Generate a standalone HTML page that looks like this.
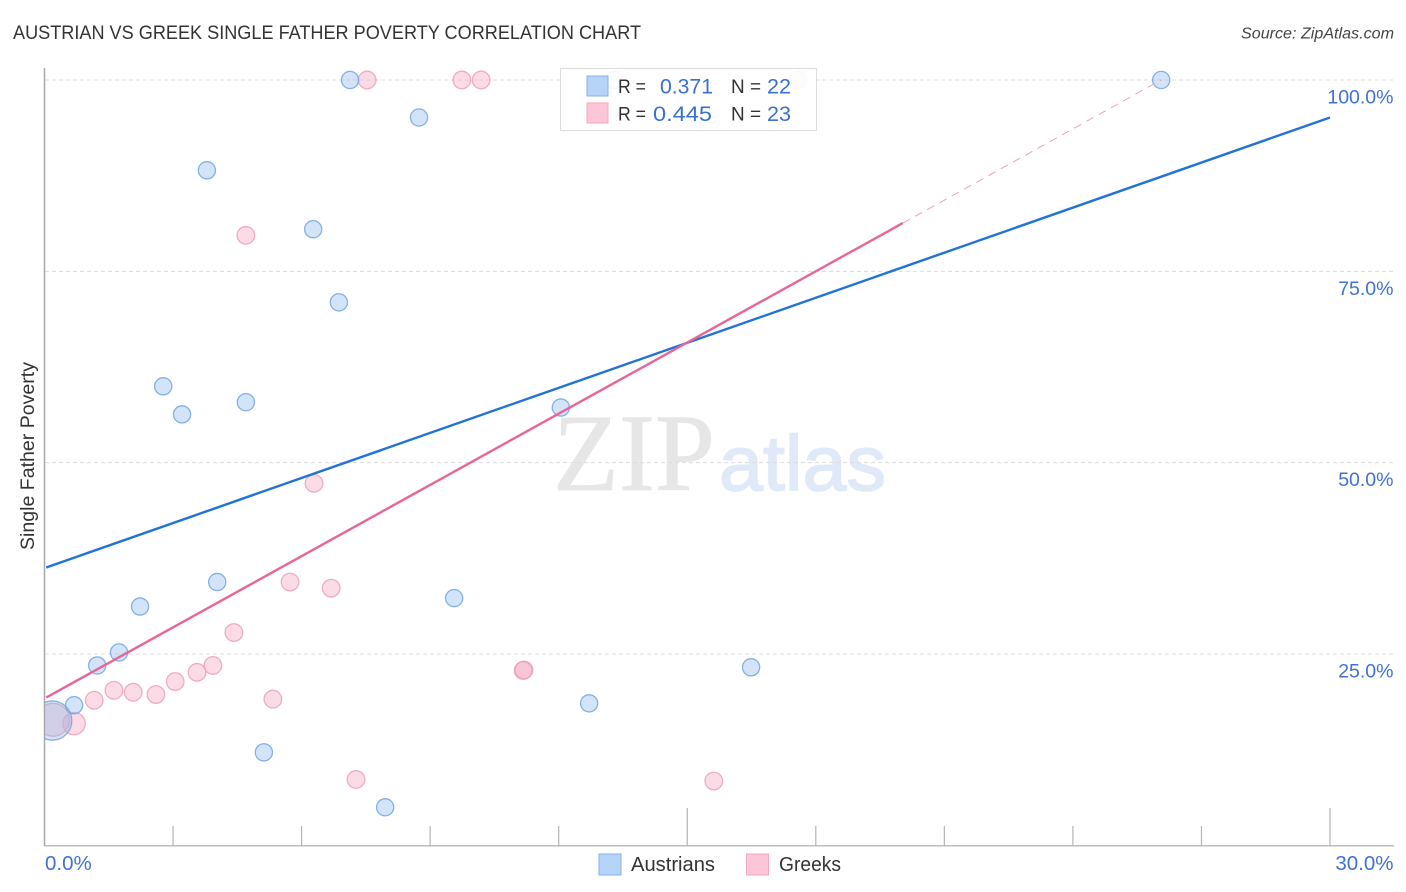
<!DOCTYPE html>
<html lang="en">
<head>
<meta charset="utf-8">
<title>Austrian vs Greek Single Father Poverty Correlation Chart</title>
<style>
html,body{margin:0;padding:0;background:#fff;}
body{width:1406px;height:892px;overflow:hidden;}
svg{display:block;font-family:"Liberation Sans",sans-serif;}
</style>
</head>
<body>
<svg id="chart" width="1406" height="892" viewBox="0 0 1406 892" xmlns="http://www.w3.org/2000/svg">
  <defs>
    <clipPath id="plot-clip"><rect x="45" y="60" width="1349" height="786"></rect></clipPath>
  </defs>
  <rect x="0" y="0" width="1406" height="892" fill="#fff"></rect>
  <text x="13" y="39" font-size="19" fill="#333" textLength="628" lengthAdjust="spacingAndGlyphs">AUSTRIAN VS GREEK SINGLE FATHER POVERTY CORRELATION CHART</text>
  <text x="1241" y="38.5" font-size="15.5" font-style="italic" fill="#444" textLength="153" lengthAdjust="spacingAndGlyphs">Source: ZipAtlas.com</text>
  <g>
    <text x="553" y="490" font-family="'Liberation Serif',serif" font-size="110" fill="#e6e6e6" stroke="#e6e6e6" stroke-width="0.8" textLength="162" lengthAdjust="spacingAndGlyphs">ZIP</text>
    <text x="719" y="490" font-size="78" fill="#dfe9f8" stroke="#dfe9f8" stroke-width="1.6" textLength="167" lengthAdjust="spacingAndGlyphs">atlas</text>
  </g>
  <g id="grid"></g>
  <g id="axes"></g>
  <g id="points" clip-path="url(#plot-clip)"></g>
  <g id="trends"></g>
  <g id="labels"></g>
  <text transform="translate(34 550) rotate(-90)" font-size="19" fill="#333" textLength="188" lengthAdjust="spacingAndGlyphs">Single Father Poverty</text>

  <g>
    <rect x="560.5" y="68.5" width="256" height="62" fill="#fff" fill-opacity="0.9" stroke="#dcdcdc"></rect>
    <rect x="587" y="76" width="21" height="20" fill="#b6d3f8" stroke="#85b2ea"></rect>
    <rect x="587" y="103" width="21" height="20" fill="#fcc6d8" stroke="#f4a8c2"></rect>
    <text x="618" y="93" font-size="19.5" fill="#333" textLength="28" lengthAdjust="spacingAndGlyphs">R =</text>
    <text x="660" y="93.5" font-size="21" fill="#3a70d0" textLength="53" lengthAdjust="spacingAndGlyphs">0.371</text>
    <text x="731" y="93" font-size="19.5" fill="#333" textLength="30" lengthAdjust="spacingAndGlyphs">N =</text>
    <text x="767" y="93.5" font-size="21" fill="#3a70d0" textLength="24" lengthAdjust="spacingAndGlyphs">22</text>
    <text x="618" y="120.5" font-size="19.5" fill="#333" textLength="28" lengthAdjust="spacingAndGlyphs">R =</text>
    <text x="653" y="121" font-size="21" fill="#3a70d0" textLength="59" lengthAdjust="spacingAndGlyphs">0.445</text>
    <text x="731" y="120.5" font-size="19.5" fill="#333" textLength="30" lengthAdjust="spacingAndGlyphs">N =</text>
    <text x="767" y="121" font-size="21" fill="#3a70d0" textLength="24" lengthAdjust="spacingAndGlyphs">23</text>
  </g>

  <g>
    <rect x="599" y="854" width="22" height="21" fill="#b6d3f8" stroke="#85b2ea"></rect>
    <text x="631" y="871" font-size="20" fill="#333" textLength="84" lengthAdjust="spacingAndGlyphs">Austrians</text>
    <rect x="746.5" y="854" width="22" height="21" fill="#fcc6d8" stroke="#f4a8c2"></rect>
    <text x="779" y="871" font-size="20" fill="#333" textLength="62" lengthAdjust="spacingAndGlyphs">Greeks</text>
  </g>
</svg>
<script>
const xTickValues = [0, 3, 6, 9, 12, 15, 18, 21, 24, 27, 30];
const xMajorTicks = [15, 30];
const xTickLabels = [[0, "0.0%"], [30, "30.0%"]];
const yGridValues = [25, 50, 75, 100];
const yTickLabels = ["25.0%", "50.0%", "75.0%", "100.0%"];

const austrianX = [7.13, 8.74, 3.79, 6.27, 6.87, 2.77, 3.21, 4.70, 12.05, 4.03, 2.23, 9.56, 1.74, 1.23, 0.69, 0.18, 5.12, 7.95, 12.71, 16.49, 26.06, 13.29];
const austrianY = [100, 95.1, 88.2, 80.5, 70.95, 59.98, 56.3, 57.9, 57.2, 34.4, 31.2, 32.3, 25.2, 23.5, 18.3, 16.3, 12.15, 4.97, 18.55, 23.26, 100, 100];
const austrianWeight = [1, 1, 1, 1, 1, 1, 1, 1, 1, 1, 1, 1, 1, 1, 1, 5.2, 1, 1, 1, 1, 1, 1];

const greekX = [7.53, 9.74, 10.19, 17.58, 4.70, 6.29, 5.73, 6.69, 4.42, 3.93, 3.56, 3.05, 2.60, 2.07, 1.62, 1.16, 0.69, 0.20, 5.33, 11.19, 11.17, 7.27, 15.62];
const greekY = [100, 100, 100, 100, 79.7, 47.3, 34.4, 33.6, 27.8, 23.5, 22.6, 21.4, 19.7, 20.0, 20.25, 18.95, 15.9, 16.4, 19.1, 22.9, 22.85, 8.6, 8.4];
const greekWeight = [1, 1, 1, 1, 1, 1, 1, 1, 1, 1, 1, 1, 1, 1, 1, 1, 1.6, 3.5, 1, 1, 1, 1, 1];

const austrianTrendX = [0.04, 30];
const austrianTrendY = [36.3, 95.1];
const greekTrendX = [0.04, 20.03];
const greekTrendY = [19.3, 81.3];
const greekTrendExtX = [20.03, 26.06];
const greekTrendExtY = [81.3, 100];

const NS = "http://www.w3.org/2000/svg";
const xScale = v => 44.5 + v * (1330 - 44.5) / 30;
const yScale = v => 845.3 - v * (845.3 - 80) / 100;

function make(tag, attrs, parent) {
  const el = document.createElementNS(NS, tag);
  for (const k in attrs) el.setAttribute(k, attrs[k]);
  parent.appendChild(el);
  return el;
}

const grid = document.getElementById("grid");
const axes = document.getElementById("axes");
const pts = document.getElementById("points");
const trends = document.getElementById("trends");
const labels = document.getElementById("labels");

yGridValues.forEach((v, i) => {
  const y = yScale(v);
  const line = make("line", {x1: 45, x2: 1394, y1: y, y2: y, stroke: "#dcdcdc", "stroke-width": 1, "stroke-dasharray": "4 3"}, grid);
  
  
  const t = make("text", {x: 1393.5, y: y + 23.5, "text-anchor": "end", "font-size": 19.5, fill: "#3f72d4"}, labels);
  t.textContent = yTickLabels[i];
  
  
});

const yAxis = make("line", {x1: 44.5, x2: 44.5, y1: 68, y2: 846, stroke: "#a8a8a8", "stroke-width": 1.5}, axes);


const xAxis = make("line", {x1: 44, x2: 1394, y1: 845.8, y2: 845.8, stroke: "#a8a8a8", "stroke-width": 1.2}, axes);



xTickValues.forEach(v => {
  if (v === 0) return;
  const x = xScale(v);
  const top = xMajorTicks.includes(v) ? 808 : 826;
  const tick = make("line", {x1: x, x2: x, y1: top, y2: 846, stroke: "#b4b4b4", "stroke-width": 1.2}, axes);
  
  
});

xTickLabels.forEach(pair => {
  const atEnd = pair[0] === 30;
  const t = make("text", {x: atEnd ? 1393.5 : xScale(pair[0]) + 0.5, y: 870, "text-anchor": atEnd ? "end" : "start", "font-size": 20.5, fill: "#3f72d4"}, labels);
  t.textContent = pair[1];
  
  
});

function drawSeries(xs, ys, ws, baseR, fill, stroke) {
  xs.forEach((v, i) => {
    const c = make("circle", {cx: xScale(v), cy: yScale(ys[i]), r: baseR * Math.sqrt(ws[i]), fill: fill, stroke: stroke, "stroke-width": 1.3}, pts);
    
    
  });
}
drawSeries(greekX, greekY, greekWeight, 8.8, "rgba(246,170,194,0.42)", "rgba(236,155,184,0.8)");
drawSeries(austrianX, austrianY, austrianWeight, 8.6, "rgba(140,185,240,0.38)", "rgba(105,160,225,0.8)");

const extLine = make("line", {x1: xScale(greekTrendExtX[0]), y1: yScale(greekTrendExtY[0]), x2: xScale(greekTrendExtX[1]), y2: yScale(greekTrendExtY[1]), stroke: "#f0a0bc", "stroke-width": 1, "stroke-dasharray": "8 6"}, trends);


const blueLine = make("line", {x1: xScale(austrianTrendX[0]), y1: yScale(austrianTrendY[0]), x2: xScale(austrianTrendX[1]), y2: yScale(austrianTrendY[1]), stroke: "#2272d8", "stroke-width": 2.4}, trends);


const pinkLine = make("line", {x1: xScale(greekTrendX[0]), y1: yScale(greekTrendY[0]), x2: xScale(greekTrendX[1]), y2: yScale(greekTrendY[1]), stroke: "#e8659a", "stroke-width": 2.4}, trends);


</script>
</body>
</html>
